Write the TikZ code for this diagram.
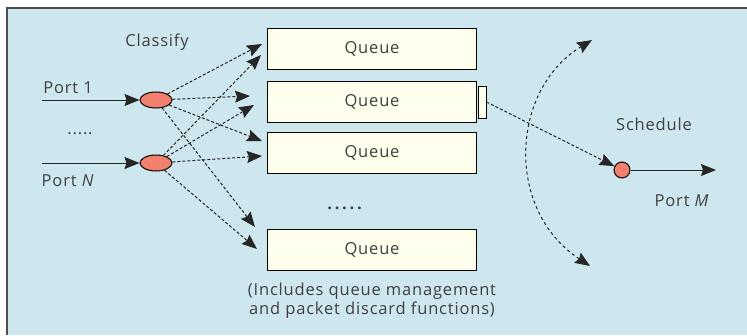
\documentclass[tikz,border=0pt]{standalone}
\usepackage{fontspec}
\setmainfont[LetterSpace=5]{Open Sans}
\usepackage{tikz}
\usetikzlibrary{arrows.meta,shapes.geometric}
\definecolor{bgblue}{RGB}{206,230,238}
\definecolor{qfill}{RGB}{255,255,238}
\definecolor{salmon}{RGB}{242,128,110}

\begin{document}
\begin{tikzpicture}[x=1pt,y=-1pt,>={Stealth[length=15pt,width=12pt,inset=2pt]},line width=1pt]
\tikzstyle{every node}=[font=\fontsize{16.5}{19}\selectfont,text=black!75];
\tikzstyle{queue}=[draw,line width=1.5pt,fill=qfill,minimum width=209pt,minimum height=41pt,inner sep=0pt];
\tikzstyle{classifier}=[draw,ellipse,fill=salmon,minimum width=32pt,minimum height=16pt,inner sep=0pt];
\tikzstyle{flow}=[->,densely dashed,black!85];
\useasboundingbox (0,0) rectangle (747,335);
% background
    \fill[bgblue] (7,8) rectangle (747,335);
    \draw[black!70,line width=1.5pt] (7,335) -- (7,8) -- (747,8);
% queues
    \node[queue] (q1) at (372,49)  {Queue};
    \node[queue] (q2) at (372,102) {Queue};
    \node[queue] (q3) at (372,153) {Queue};
    \node[queue] (q4) at (372,250) {Queue};
    \node[draw,fill=qfill,minimum width=8pt,minimum height=32pt,inner sep=0pt] (tail) at (482,102) {};
    \node (qdots) at (345,208) {\textbf{.\,.\,.\,.\,.}};
    \node[align=center] (note) at (372,301) {(Includes queue management\\and packet discard functions)};
% classifiers
    \node[classifier] (c1) at (156,100) {};
    \node[classifier] (cN) at (156,163) {};
    \coordinate (p1) at (42,100);
    \coordinate (pN) at (42,163);
    \node (l1) at (68,88)  {Port 1};
    \node (lN) at (68,181) {Port \textit{N}};
    \node (pdots) at (80,134) {.....};
    \node (cl) at (157,42) {Classify};
% scheduler
    \node[draw,circle,fill=salmon,minimum size=16pt,inner sep=0pt] (s) at (622,170) {};
    \coordinate (out) at (716,170);
    \coordinate (atop) at (592,40);
    \coordinate (abot) at (590,266);
    \node (sl) at (654,124) {Schedule};
    \node (lM) at (682,201) {Port \textit{M}};
% edges
    \draw[->,black!85] (p1) -- (c1.west);
    \draw[->,black!85] (pN) -- (cN.west);
    \draw[flow] (c1) -- (262,44);
    \draw[flow] (c1) -- (250,96);
    \draw[flow] (c1) -- (262,141);
    \draw[flow] (c1) -- (255,227);
    \draw[flow] (cN) -- (261,55);
    \draw[flow] (cN) -- (254,105);
    \draw[flow] (cN) -- (262,156);
    \draw[flow] (cN) -- (257,249);
    \draw[flow] (tail.east) -- (s);
    \draw[->,black!85] (s) -- (out);
    \draw[<->,dashed,black!85] (atop) .. controls (510,90) and (505,210) .. (abot);
\end{tikzpicture}
\end{document}
